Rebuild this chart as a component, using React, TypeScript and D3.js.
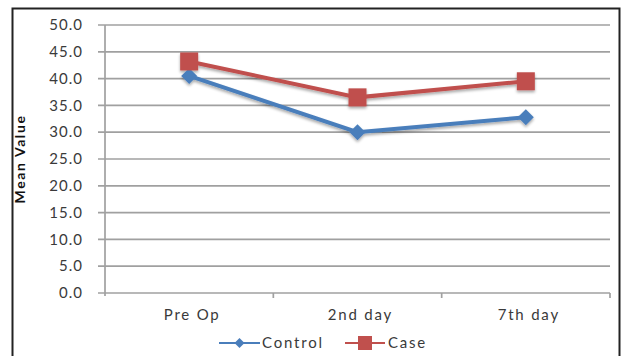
import React from "react";
import * as d3 from "d3";

const categories = ["Pre Op", "2nd day", "7th day"];
const controlValues = [40.5, 30.0, 32.8];
const caseValues = [43.2, 36.5, 39.5];
const yTicks = [0, 5, 10, 15, 20, 25, 30, 35, 40, 45, 50];

const W = 622;
const H = 356;
const margin = { left: 105, right: 12, top: 25, bottom: 63 };
const font = "Lato, 'Open Sans', sans-serif";

const BLUE = "#4a7ebb";
const RED = "#c0504d";
const GRID = "#a0a0a0";
const TEXT = "#3a3a3a";

export default function App() {
  const x = d3
    .scaleBand<string>()
    .domain(categories)
    .range([margin.left, W - margin.right]);
  const y = d3
    .scaleLinear()
    .domain([0, 50])
    .range([H - margin.bottom, margin.top]);

  const cx = (c: string) => (x(c) ?? 0) + x.bandwidth() / 2;
  const line = d3
    .line<number>()
    .x((_, i) => cx(categories[i]))
    .y((d) => y(d));

  const x0 = margin.left;
  const x1 = W - margin.right;
  const yBase = y(0);

  const diamond = (px: number, py: number, r: number) =>
    `M${px},${py - r}L${px + r},${py}L${px},${py + r}L${px - r},${py}Z`;

  return (
    <svg
      width={W}
      height={H}
      style={{ position: "absolute", left: 0, top: 0, background: "#fff" }}
    >
      <defs>
        <filter id="shadow" x="-20%" y="-20%" width="140%" height="160%">
          <feGaussianBlur in="SourceAlpha" stdDeviation="1.5" />
          <feOffset dx="0" dy="2" result="b" />
          <feComponentTransfer>
            <feFuncA type="linear" slope="0.35" />
          </feComponentTransfer>
          <feMerge>
            <feMergeNode />
            <feMergeNode in="SourceGraphic" />
          </feMerge>
        </filter>
      </defs>

      {/* outer frame */}
      <rect x={12.5} y={8.5} width={607} height={360} fill="none" stroke="#222" strokeWidth={2} />

      {/* horizontal gridlines */}
      {yTicks.map((t) => (
        <line
          key={t}
          x1={x0 - 7}
          x2={x1}
          y1={y(t)}
          y2={y(t)}
          stroke={GRID}
          strokeWidth={1.7}
        />
      ))}

      {/* value axis */}
      <line x1={x0} x2={x0} y1={y(50)} y2={yBase + 3} stroke={GRID} strokeWidth={1.7} />

      {/* category axis tick marks */}
      {categories.map((c) => (
        <line
          key={c}
          x1={(x(c) ?? 0) + x.bandwidth()}
          x2={(x(c) ?? 0) + x.bandwidth()}
          y1={yBase}
          y2={yBase + 5}
          stroke={GRID}
          strokeWidth={1.7}
        />
      ))}

      {/* y tick labels */}
      {yTicks.map((t) => (
        <text
          key={t}
          x={x0 - 22}
          y={y(t)}
          dy="0.35em"
          textAnchor="end"
          fontFamily={font}
          fontSize={15}
          letterSpacing={1}
          fill={TEXT}
        >
          {t.toFixed(1)}
        </text>
      ))}

      {/* category labels */}
      {categories.map((c) => (
        <text
          key={c}
          x={cx(c) + 3}
          y={yBase + 27}
          textAnchor="middle"
          fontFamily={font}
          fontSize={15}
          letterSpacing={1.8}
          fill={TEXT}
        >
          {c}
        </text>
      ))}

      {/* axis title */}
      <text
        transform={`translate(25,${(y(0) + y(50)) / 2}) rotate(-90)`}
        textAnchor="middle"
        fontFamily={font}
        fontSize={14}
        fontWeight="bold"
        letterSpacing={1.6}
        fill="#111"
      >
        Mean Value
      </text>

      {/* series */}
      <g filter="url(#shadow)">
        <path d={line(controlValues) ?? ""} fill="none" stroke={BLUE} strokeWidth={4} />
        {controlValues.map((v, i) => (
          <path key={i} d={diamond(cx(categories[i]), y(v), 8)} fill={BLUE} />
        ))}
        <path d={line(caseValues) ?? ""} fill="none" stroke={RED} strokeWidth={4} />
        {caseValues.map((v, i) => (
          <rect
            key={i}
            x={cx(categories[i]) - 9}
            y={y(v) - 9}
            width={18}
            height={18}
            fill={RED}
          />
        ))}
      </g>

      {/* legend */}
      <g fontFamily={font} fontSize={15} letterSpacing={1.8} fill={TEXT}>
        <line x1={219} x2={260} y1={343} y2={343} stroke={BLUE} strokeWidth={2} />
        <path d={diamond(239.5, 343, 5)} fill={BLUE} />
        <text x={262} y={343} dy="0.35em">Control</text>
        <line x1={345} x2={385} y1={343} y2={343} stroke={RED} strokeWidth={2} />
        <rect x={358} y={336} width={14} height={14} fill={RED} />
        <text x={388} y={343} dy="0.35em">Case</text>
      </g>
    </svg>
  );
}
